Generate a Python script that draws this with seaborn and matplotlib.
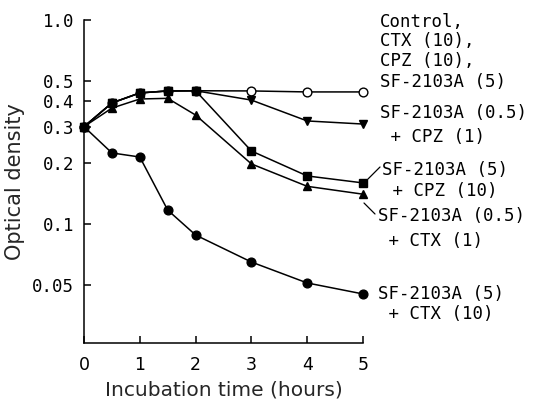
import matplotlib
matplotlib.use("Agg")
import matplotlib.pyplot as plt
import seaborn as sns
import numpy as np

# ---- data ----
times = [0, 0.5, 1, 1.5, 2, 3, 4, 5]
control = [0.30, 0.392, 0.439, 0.449, 0.450, 0.449, 0.444, 0.444]
sf05_cpz1 = [0.30, 0.392, 0.439, 0.449, 0.450, 0.405, 0.320, 0.309]
sf5_cpz10 = [0.30, 0.392, 0.439, 0.449, 0.450, 0.228, 0.172, 0.159]
sf05_ctx1 = [0.30, 0.370, 0.410, 0.413, 0.342, 0.197, 0.153, 0.140]
sf5_ctx10 = [0.30, 0.223, 0.213, 0.117, 0.0883, 0.0651, 0.0514, 0.0454]

ytick_vals = [0.05, 0.1, 0.2, 0.3, 0.4, 0.5, 1.0]
ytick_labels = ["0.05", "0.1", "0.2", "0.3", "0.4", "0.5", "1.0"]
xtick_vals = [0, 1, 2, 3, 4, 5]

sns.set_style("ticks")
W, H = 533, 403
fig = plt.figure(figsize=(W / 100, H / 100), dpi=100)
ax = fig.add_axes([84 / W, 1 - 343 / H, (363 - 84) / W, (343 - 20) / H])

mono = "DejaVu Sans Mono"
fs = 12.5
ms = 6.3
lw = 1.1

series = [
    (control, "o", "white"),
    (sf05_cpz1, "v", "black"),
    (sf05_ctx1, "^", "black"),
    (sf5_cpz10, "s", "black"),
    (sf5_ctx10, "o", "black"),
]
for vals, mk, fc in series:
    sns.lineplot(x=times, y=vals, ax=ax, color="black", linewidth=lw,
                 marker=mk, markersize=ms, markerfacecolor=fc,
                 markeredgecolor="black", markeredgewidth=1.0,
                 clip_on=False)

ax.set_yscale("log")
ax.set_ylim(0.0261, 1.0)
ax.set_xlim(0, 5)
ax.set_yticks(ytick_vals)
ax.set_yticklabels(ytick_labels, family=mono, fontsize=fs)
ax.yaxis.set_minor_locator(matplotlib.ticker.NullLocator())
ax.set_xticks(xtick_vals)
ax.set_xticklabels([str(v) for v in xtick_vals], fontsize=fs, family="DejaVu Sans")
ax.tick_params(direction="in", length=5, width=1.1, colors="black")
ax.tick_params(axis="y", pad=7)
ax.tick_params(axis="x", pad=9)
for s in ["top", "right"]:
    ax.spines[s].set_visible(False)
for s in ["left", "bottom"]:
    ax.spines[s].set_linewidth(1.1)
    ax.spines[s].set_color("black")

ax.set_xlabel("Incubation time (hours)", fontsize=14.5, labelpad=5)
ax.set_ylabel("Optical density", fontsize=15, labelpad=5)


def fx(px):
    return px / W


def fy(py):
    return 1 - py / H


tk = dict(family=mono, fontsize=fs, color="black", va="center", ha="left")
labels = [
    (380, 22, "Control,"),
    (380, 41, "CTX (10),"),
    (380, 61, "CPZ (10),"),
    (380, 82, "SF-2103A (5)"),
    (380, 113, "SF-2103A (0.5)"),
    (380, 137, " + CPZ (1)"),
    (382, 170, "SF-2103A (5)"),
    (382, 191, " + CPZ (10)"),
    (378, 216, "SF-2103A (0.5)"),
    (378, 241, " + CTX (1)"),
    (378, 294, "SF-2103A (5)"),
    (378, 314, " + CTX (10)"),
]
for px, py, t in labels:
    fig.text(fx(px), fy(py), t, **tk)

# leader lines
fig.add_artist(plt.Line2D([fx(368), fx(380)], [fy(179), fy(167)], color="black", lw=0.9))
fig.add_artist(plt.Line2D([fx(364), fx(375)], [fy(203), fy(214)], color="black", lw=0.9))

fig.savefig("out.png", dpi=100)
